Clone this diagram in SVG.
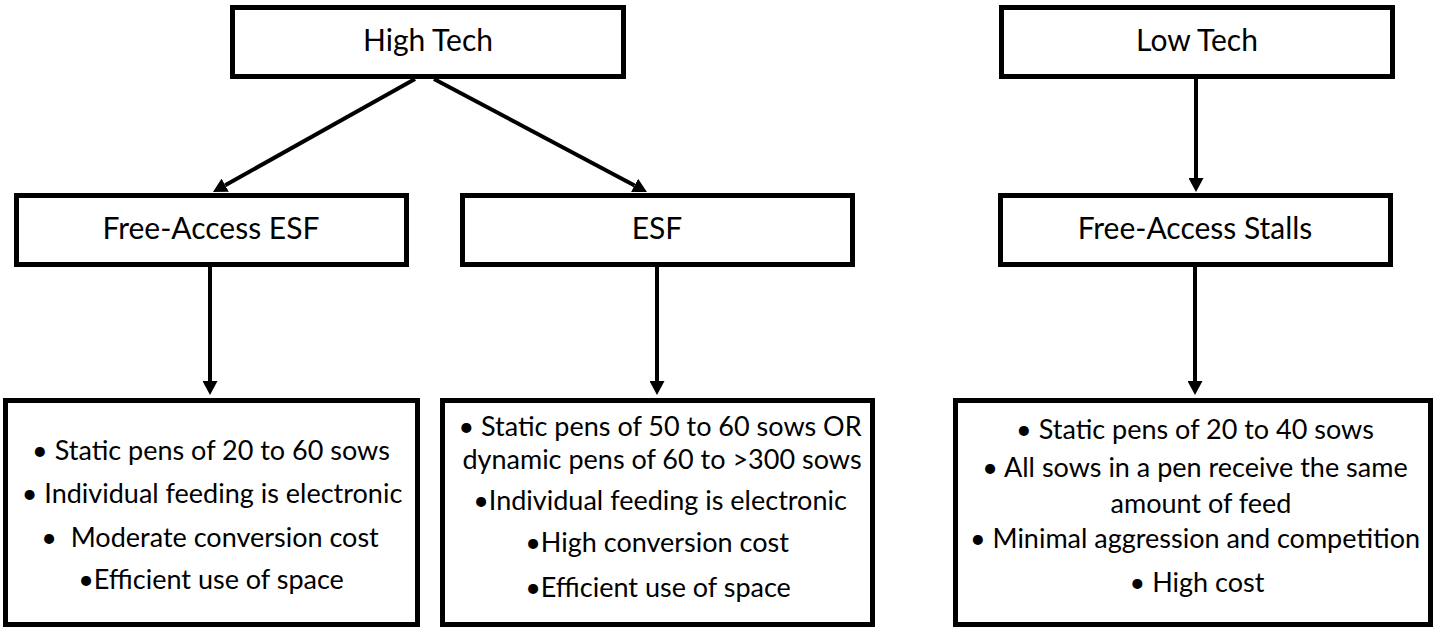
<svg xmlns="http://www.w3.org/2000/svg" width="1435" height="631" viewBox="0 0 1435 631">
<style>
.box{fill:#fff;stroke:#000;stroke-width:5}
.hd{font-family:Lato,"Liberation Sans",sans-serif;font-size:30px;fill:#000;text-anchor:middle}
.tx{font-family:Lato,"Liberation Sans",sans-serif;font-size:27px;fill:#000;text-anchor:middle;white-space:pre}
.ar{stroke:#000;stroke-width:4;fill:none;marker-end:url(#ah)}
</style>
<defs>
<marker id="ah" markerUnits="userSpaceOnUse" markerWidth="14" markerHeight="15" viewBox="0 0 14 15" refX="0" refY="7.5" orient="auto">
<path d="M0,0 L14,7.5 L0,15 Z" fill="#000"/>
</marker>
</defs>
<rect width="1435" height="631" fill="#fff"/>
<g id="connectors">
<line class="ar" x1="415" y1="79" x2="225.2" y2="185.2"/>
<line class="ar" x1="434" y1="79" x2="634.6" y2="185.4"/>
<line class="ar" x1="1196" y1="79" x2="1196" y2="178"/>
<line class="ar" x1="210" y1="267" x2="210" y2="381"/>
<line class="ar" x1="657" y1="267" x2="657" y2="381"/>
<line class="ar" x1="1195" y1="267" x2="1195" y2="381"/>
</g>
<g id="high-tech">
<rect class="box" x="232.5" y="7.5" width="391" height="69"/>
<text class="hd" x="428" y="51">High Tech</text>
</g>
<g id="low-tech">
<rect class="box" x="1001.5" y="7.5" width="391" height="69"/>
<text class="hd" x="1197" y="51">Low Tech</text>
</g>
<g id="free-access-esf">
<rect class="box" x="16.5" y="195.5" width="390" height="69"/>
<text class="hd" x="211" y="239">Free-Access ESF</text>
</g>
<g id="esf">
<rect class="box" x="462.5" y="195.5" width="390" height="69"/>
<text class="hd" x="657" y="239">ESF</text>
</g>
<g id="free-access-stalls">
<rect class="box" x="1000.5" y="195.5" width="390" height="69"/>
<text class="hd" x="1195" y="239">Free-Access Stalls</text>
</g>
<g id="free-access-esf-details">
<rect class="box" x="5.5" y="400.5" width="412" height="224"/>
<text class="tx" x="211" y="460">• Static pens of 20 to 60 sows</text>
<text class="tx" x="212" y="503">• Individual feeding is electronic</text>
<text class="tx" x="210" y="547">•  Moderate conversion cost</text>
<text class="tx" x="211" y="589">•Efficient use of space</text>
</g>
<g id="esf-details">
<rect class="box" x="442.5" y="400.5" width="430" height="224"/>
<text class="tx"><tspan x="660" y="436">• Static pens of 50 to 60 sows OR</tspan><tspan x="662" y="469">dynamic pens of 60 to &gt;300 sows</tspan></text>
<text class="tx" x="660" y="510">•Individual feeding is electronic</text>
<text class="tx" x="657" y="552">•High conversion cost</text>
<text class="tx" x="658" y="597">•Efficient use of space</text>
</g>
<g id="free-access-stalls-details">
<rect class="box" x="955.5" y="400.5" width="475" height="224"/>
<text class="tx" x="1195" y="439">• Static pens of 20 to 40 sows</text>
<text class="tx"><tspan x="1195" y="477">• All sows in a pen receive the same</tspan><tspan x="1201" y="513">amount of feed</tspan></text>
<text class="tx" x="1195" y="548">• Minimal aggression and competition</text>
<text class="tx" x="1197" y="592">• High cost</text>
</g>
</svg>
